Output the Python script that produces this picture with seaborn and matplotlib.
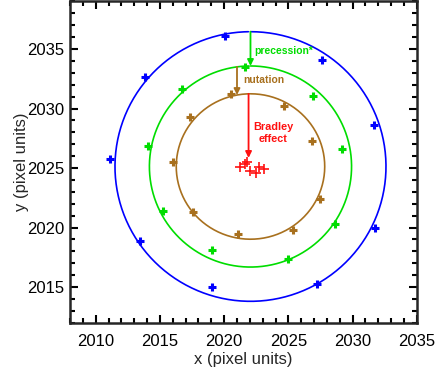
import numpy as np
import pandas as pd
import seaborn as sns
import matplotlib.pyplot as plt

# ring centre and radii (x units / y units)
center = (2022.05, 2025.13)
ring_rx = [10.55, 7.87, 5.78]
ring_ry = [11.33, 8.45, 6.11]
ring_colors = ['#0000ff', '#00dd00', '#a8701e']

blue_x = [2020.07, 2013.82, 2027.6, 2031.65, 2011.14, 2013.48, 2031.75, 2019.06, 2027.24]
blue_y = [2036.14, 2032.68, 2034.1, 2028.59, 2025.74, 2018.89, 2020.0, 2015.0, 2015.23]
green_x = [2021.63, 2016.72, 2026.9, 2014.05, 2029.2, 2015.22, 2028.66, 2019.08, 2024.98]
green_y = [2033.46, 2031.67, 2031.08, 2026.89, 2026.61, 2021.38, 2020.26, 2018.1, 2017.38]
brown_x = [2020.56, 2017.32, 2024.67, 2026.87, 2016.0, 2027.47, 2017.6, 2025.39, 2021.08]
brown_y = [2031.25, 2029.3, 2030.24, 2027.31, 2025.52, 2022.38, 2021.29, 2019.78, 2019.42]
red_x = [2021.24, 2021.63, 2021.81, 2022.02, 2022.46, 2022.74, 2023.13]
red_y = [2025.13, 2025.3, 2025.52, 2024.73, 2024.6, 2025.07, 2024.93]
red_color = '#ff1010'

sns.set_theme(style='ticks')
plt.rcParams['font.family'] = ['Liberation Sans', 'DejaVu Sans']

fig = plt.figure(figsize=(4.36, 3.68), dpi=100)
ax = fig.add_axes([0.1606, 0.123, 0.7954, 0.873])

# circles
theta = np.linspace(0, 2 * np.pi, 400)
for rx, ry, c in zip(ring_rx, ring_ry, ring_colors):
    ring = pd.DataFrame({'x': center[0] + rx * np.sin(theta),
                         'y': center[1] + ry * np.cos(theta)})
    sns.lineplot(data=ring, x='x', y='y', sort=False, color=c, lw=1.2, ax=ax)

# measured positions
for xs, ys, c in [(blue_x, blue_y, ring_colors[0]),
                  (green_x, green_y, ring_colors[1]),
                  (brown_x, brown_y, ring_colors[2])]:
    sns.scatterplot(x=xs, y=ys, marker='+', s=40, linewidth=2.2, color=c, ax=ax)
sns.scatterplot(x=red_x, y=red_y, marker='+', s=50, linewidth=1.2, color=red_color, ax=ax)

# arrows between rings
def arrow(x0, y0, y1, c):
    ax.annotate('', xy=(x0, y1), xytext=(x0, y0),
                arrowprops=dict(arrowstyle='-|>', color=c, lw=1.3, mutation_scale=9,
                                shrinkA=0, shrinkB=0))

def ring_y(i, x):
    return center[1] + ring_ry[i] * np.sqrt(max(0, 1 - ((x - center[0]) / ring_rx[i]) ** 2))

arrow(center[0], ring_y(0, center[0]), ring_y(1, center[0]), ring_colors[1])
arrow(2021.0, ring_y(1, 2021.0), ring_y(2, 2021.0), ring_colors[2])
arrow(2021.9, ring_y(2, 2021.9), 2025.85, red_color)

ax.text(2022.35, 2034.8, 'precession*', color=ring_colors[1], fontsize=7.5,
        fontweight='bold', va='center', ha='left')
ax.text(2021.45, 2032.4, 'nutation', color=ring_colors[2], fontsize=7.5,
        fontweight='bold', va='center', ha='left')
ax.text(2023.8, 2027.95, 'Bradley\neffect', color=red_color, fontsize=7.8,
        fontweight='bold', va='center', ha='center', linespacing=1.3)

ax.set_xlim(2008, 2035)
ax.set_ylim(2012, 2039)
ax.set_xticks([2010, 2015, 2020, 2025, 2030, 2035])
ax.set_yticks([2015, 2020, 2025, 2030, 2035])
ax.set_xticks(np.arange(2008, 2036), minor=True)
ax.set_yticks(np.arange(2012, 2040), minor=True)
ax.tick_params(which='both', direction='in', top=True, right=True, width=1.5, colors='black')
ax.tick_params(which='major', length=6, labelsize=12)
ax.tick_params(which='minor', length=3.5)
ax.tick_params(axis='x', pad=8)
ax.tick_params(axis='y', pad=4)
for s in ax.spines.values():
    s.set_linewidth(1.8)
    s.set_visible(True)
ax.set_xlabel('x (pixel units)', fontsize=12, labelpad=2.5)
ax.set_ylabel('y (pixel units)', fontsize=12, labelpad=-1.5)

fig.savefig('out.png', dpi=100)
